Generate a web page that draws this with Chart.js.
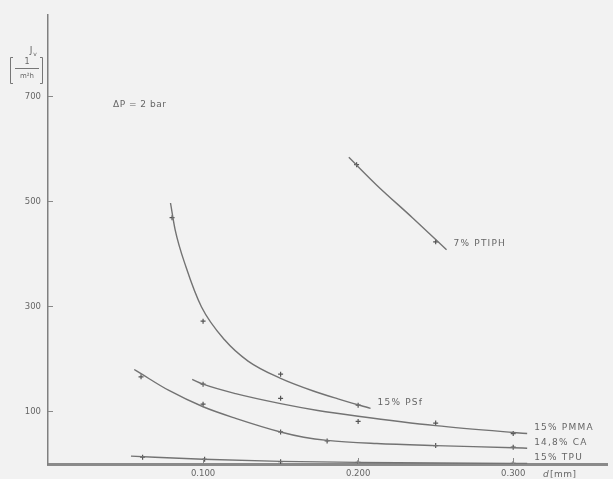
<!DOCTYPE html>
<html>
<head>
<meta charset="utf-8">
<script src="https://cdn.jsdelivr.net/npm/chart.js@4/dist/chart.umd.min.js"></script>
<style>
  body { margin: 0; background: #f2f2f2; }
  canvas { display: block; }
</style>
</head>
<body>
<canvas id="chart" width="613" height="479"></canvas>
<script>
// tick positions and labels
const xTicks = [0.1, 0.2, 0.3];
const xTickLabels = ['0.100', '0.200', '0.300'];
const yTicks = [100, 300, 500, 700];

// 7% PTIPH
const ptiphCurveX = [0.194, 0.212, 0.235, 0.257];
const ptiphCurveY = [584, 531, 469, 408];
const ptiphPointX = [0.199, 0.250];
const ptiphPointY = [570, 423];

// 15% PSf
const psfCurveX = [0.079, 0.082, 0.089, 0.099, 0.114, 0.129, 0.150, 0.172, 0.187, 0.208];
const psfCurveY = [497, 446, 375, 299, 236, 196, 163, 138, 124, 106];
const psfPointX = [0.080, 0.100, 0.150, 0.200];
const psfPointY = [469, 272, 171, 112];

// 15% PMMA
const pmmaCurveX = [0.093, 0.100, 0.121, 0.150, 0.174, 0.200, 0.250, 0.300, 0.309];
const pmmaCurveY = [161, 152, 134, 115, 102, 91, 73, 60, 58];
const pmmaPointX = [0.100, 0.150, 0.200, 0.250, 0.300];
const pmmaPointY = [152, 125, 81, 78, 58];

// 14,8% CA
const caCurveX = [0.0556, 0.060, 0.078, 0.100, 0.121, 0.150, 0.165, 0.180, 0.212, 0.250, 0.300, 0.309];
const caCurveY = [180, 172, 140, 109, 87, 61, 51, 45, 39, 35, 31, 30];
const caPointX = [0.060, 0.100, 0.150, 0.180, 0.250, 0.300];
const caPointY = [166, 114, 61, 44, 35, 32];

// 15% TPU
const tpuCurveX = [0.0535, 0.100, 0.150, 0.200, 0.300, 0.309];
const tpuCurveY = [15, 9, 5, 3, 1, 1];
const tpuPointX = [0.061, 0.101, 0.150, 0.200, 0.300];
const tpuPointY = [13, 9, 4.5, 3, 1];

const lineColor = '#737373';
const textColor = '#666';
const tickFont = { family: 'DejaVu Sans', size: 8.5 };

function pts(xs, ys) {
    return xs.map((x, i) => ({ x: x, y: ys[i] }));
}

function curve(label, xs, ys) {
    return {
        type: 'line',
        label: label,
        data: pts(xs, ys),
        borderColor: lineColor,
        borderWidth: 1.4,
        pointRadius: 0,
        cubicInterpolationMode: 'monotone',
        fill: false
    };
}

function marks(xs, ys) {
    return {
        type: 'scatter',
        label: '',
        data: pts(xs, ys),
        pointStyle: 'cross',
        pointRadius: 2.5,
        borderColor: '#555',
        borderWidth: 1.2,
        showLine: false
    };
}

// inward tick marks, axis unit labels, curve names
const decorations = {
    id: 'decorations',
    afterDatasetsDraw(chart) {
        const ctx = chart.ctx;
        const xs = chart.scales.x, ys = chart.scales.y;
        const area = chart.chartArea;
        ctx.save();
        ctx.strokeStyle = '#888';
        ctx.lineWidth = 1;
        xTicks.forEach(v => {
            const px = Math.round(xs.getPixelForValue(v)) + 0.5;
            ctx.beginPath();
            ctx.moveTo(px, area.bottom);
            ctx.lineTo(px, area.bottom - 6);
            ctx.stroke();
        });
        yTicks.forEach(v => {
            const py = Math.round(ys.getPixelForValue(v)) + 0.5;
            ctx.beginPath();
            ctx.moveTo(area.left, py);
            ctx.lineTo(area.left + 5, py);
            ctx.stroke();
        });

        ctx.fillStyle = textColor;
        ctx.font = '9px "DejaVu Sans"';
        ctx.letterSpacing = '1.2px';
        ctx.textBaseline = 'middle';
        ctx.textAlign = 'left';
        chart.data.datasets.forEach((ds, i) => {
            if (ds.type !== 'line' || !ds.label) return;
            const meta = chart.getDatasetMeta(i);
            const last = meta.data[meta.data.length - 1];
            ctx.fillText(ds.label, last.x + 7, last.y - 6);
        });

        ctx.letterSpacing = '0.5px';
        ctx.fillText('\u0394P = 2 bar', 113, 105);
        ctx.font = 'italic 9px "DejaVu Sans"';
        ctx.fillText('d', 543, 475);
        ctx.font = '9px "DejaVu Sans"';
        ctx.fillText('[mm]', 550, 475);

        // y axis unit: J_v [1 / m2h]
        ctx.letterSpacing = '0px';
        ctx.textAlign = 'center';
        ctx.font = '9px "DejaVu Sans"';
        ctx.fillText('J', 31, 51);
        ctx.font = '6px "DejaVu Sans"';
        ctx.fillText('v', 35, 54);
        ctx.font = '8px "DejaVu Sans"';
        ctx.fillText('1', 27, 62);
        ctx.font = '7px "DejaVu Sans"';
        ctx.fillText('m\u00b2h', 27, 76);
        ctx.strokeStyle = '#777';
        ctx.lineWidth = 1;
        ctx.beginPath();
        ctx.moveTo(15, 68.5); ctx.lineTo(39, 68.5);
        ctx.moveTo(13, 57.5); ctx.lineTo(10.5, 57.5); ctx.lineTo(10.5, 83.5); ctx.lineTo(13, 83.5);
        ctx.moveTo(40, 57.5); ctx.lineTo(42.5, 57.5); ctx.lineTo(42.5, 83.5); ctx.lineTo(40, 83.5);
        ctx.stroke();
        ctx.restore();
    }
};

new Chart(document.getElementById('chart'), {
    data: {
        datasets: [
            curve('7% PTIPH', ptiphCurveX, ptiphCurveY),
            marks(ptiphPointX, ptiphPointY),
            curve('15% PSf', psfCurveX, psfCurveY),
            marks(psfPointX, psfPointY),
            curve('15% PMMA', pmmaCurveX, pmmaCurveY),
            marks(pmmaPointX, pmmaPointY),
            curve('14,8% CA', caCurveX, caCurveY),
            marks(caPointX, caPointY),
            curve('15% TPU', tpuCurveX, tpuCurveY),
            marks(tpuPointX, tpuPointY)
        ]
    },
    options: {
        responsive: false,
        animation: false,
        layout: { padding: { top: 15, left: 0, right: 0, bottom: 0 } },
        plugins: { legend: { display: false }, tooltip: { enabled: false }, title: { display: false } },
        scales: {
            x: {
                type: 'linear',
                min: 0,
                max: 0.361,
                afterBuildTicks: s => { s.ticks = xTicks.map(v => ({ value: v })); },
                afterFit: s => { s.height = 15; },
                grid: { display: false, drawTicks: false },
                border: { color: '#8a8a8a', width: 3 },
                ticks: {
                    font: tickFont,
                    color: textColor,
                    padding: 5,
                    maxRotation: 0,
                    autoSkip: false,
                    callback: v => xTickLabels[xTicks.indexOf(v)]
                }
            },
            y: {
                type: 'linear',
                min: 0,
                max: 855,
                afterBuildTicks: s => { s.ticks = yTicks.map(v => ({ value: v })); },
                afterFit: s => { s.width = 48; },
                grid: { display: false, drawTicks: false },
                border: { color: '#808080', width: 1.5 },
                ticks: {
                    font: tickFont,
                    color: textColor,
                    padding: 7,
                    autoSkip: false
                }
            }
        }
    },
    plugins: [decorations]
});
</script>
</body>
</html>
